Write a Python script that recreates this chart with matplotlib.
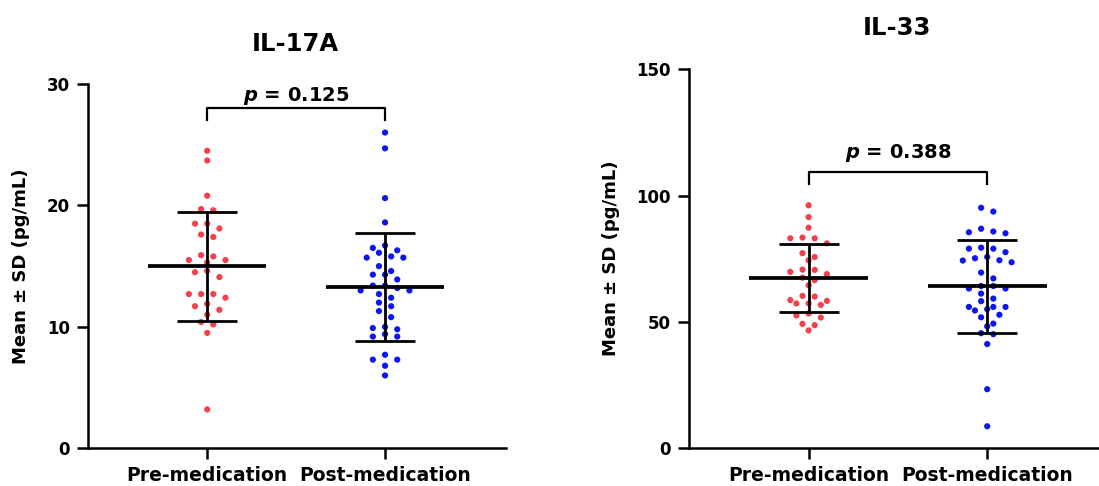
import matplotlib.pyplot as plt
import numpy as np

# values (pg/mL)
groups = ["Pre-medication", "Post-medication"]

il17_pre = [24.5, 23.7, 20.8, 19.6, 19.7, 18.5, 18.5, 18.1, 17.4, 17.6,
            15.9, 15.5, 15.3, 15.5, 15.8, 14.6, 14.5, 14.1, 12.7, 12.7,
            12.7, 12.4, 11.7, 11.4, 11.9, 11.0, 10.2, 10.4, 9.5, 3.2]
il17_post = [26.0, 24.7, 20.6, 18.6, 16.7, 16.5, 16.3, 16.1, 15.8, 15.7,
             15.7, 15.0, 14.6, 14.3, 14.3, 13.9, 13.4, 13.4, 13.2, 13.0,
             13.0, 12.7, 12.4, 12.0, 11.7, 11.3, 10.8, 9.9, 10.0, 9.8,
             9.4, 9.2, 9.2, 7.7, 7.3, 7.3, 6.8, 6.0]
il33_pre = [96.2, 91.5, 87.3, 83.1, 83.1, 83.4, 81.1, 77.2, 75.7, 74.4,
            70.7, 68.9, 69.8, 70.6, 67.5, 66.5, 64.5, 60.3, 58.6, 57.3,
            56.7, 57.3, 58.3, 60.0, 53.3, 52.5, 51.7, 49.2, 48.7, 46.6]
il33_post = [93.7, 95.2, 85.8, 85.1, 85.5, 86.9, 79.0, 77.6, 79.0, 79.4,
             75.7, 74.4, 73.6, 74.3, 75.2, 69.5, 67.2, 64.2, 63.2, 63.2,
             64.2, 61.2, 58.2, 59.2, 55.9, 55.9, 55.9, 54.5, 55.0, 51.8,
             52.8, 48.2, 49.3, 45.1, 45.5, 41.2, 23.3, 8.6]

p_il17 = "0.125"
p_il33 = "0.388"

RED = "#F2414B"
BLUE = "#0B16F2"

plt.rcParams['font.family'] = ['DejaVu Sans']
plt.rcParams['font.weight'] = 'bold'
plt.rcParams['axes.labelweight'] = 'bold'
plt.rcParams['mathtext.fontset'] = 'custom'
plt.rcParams['mathtext.it'] = 'DejaVu Sans:italic:bold'
plt.rcParams['mathtext.rm'] = 'DejaVu Sans:bold'


def swarm(ax, vals, xpos, row_px=6.5, step_px=12.2):
    # GraphPad-like scatter: group close values into rows, spread each row
    vals = np.asarray(vals)
    p0 = ax.transData.transform((0, 0))
    p1 = ax.transData.transform((1, 1))
    px_x, px_y = p1 - p0
    order = np.argsort(vals)[::-1]
    rows, cur = [], []
    for i in order:
        if cur and (vals[cur[0]] - vals[i]) * px_y > row_px:
            rows.append(cur)
            cur = []
        cur.append(i)
    rows.append(cur)
    off = np.zeros(len(vals))
    for r in rows:
        n = len(r)
        slots = sorted(np.arange(n) - (n - 1) / 2, key=lambda s: (abs(s), s))
        for i, s in zip(r, slots):
            off[i] = s * step_px / px_x
    return xpos + off


def panel(ax, pre, post, xmax, ylim, yticks, pval, bracket, ptext_y):
    ax.set_xlim(-0.67, xmax)
    ax.set_ylim(*ylim)
    ax.set_yticks(yticks)
    ax.set_xticks([0, 1])
    ax.set_xticklabels(groups, fontsize=13.5)
    for x, d, c in [(0, pre, RED), (1, post, BLUE)]:
        xs = swarm(ax, d, x)
        ax.scatter(xs, d, s=20, color=c, edgecolors='none', zorder=2, clip_on=False)
        m = np.mean(d)
        sd = np.std(d, ddof=1)
        ax.hlines(m, x - 0.333, x + 0.333, color='black', lw=2.7, zorder=3)
        ax.vlines(x, m - sd, m + sd, color='black', lw=2, zorder=3)
        ax.hlines([m - sd, m + sd], x - 0.168, x + 0.168, color='black', lw=2, zorder=3)
    lo, hi = bracket
    ax.plot([0, 0, 1, 1], [lo, hi, hi, lo], color='black', lw=1.6, clip_on=False)
    ax.text(0.5, ptext_y, r'$p$ = ' + pval, ha='center', va='baseline', fontsize=14)
    ax.spines['top'].set_visible(False)
    ax.spines['right'].set_visible(False)
    for s in ['left', 'bottom']:
        ax.spines[s].set_linewidth(1.8)
    ax.tick_params(axis='y', direction='out', length=8, width=1.8, labelsize=12, pad=5)
    ax.tick_params(axis='x', direction='out', length=8, width=1.8, pad=5)
    ax.set_ylabel("Mean ± SD (pg/mL)", fontsize=13, labelpad=12)


fig = plt.figure(figsize=(10.99, 4.86), dpi=100)
axL = fig.add_axes([0.0801, 0.0776, 0.3803, 0.7496])
axR = fig.add_axes([0.6269, 0.0782, 0.3731, 0.7788])

panel(axL, il17_pre, il17_post, 1.68, (0, 30), [0, 10, 20, 30], p_il17, (27.0, 28.0), 28.6)
panel(axR, il33_pre, il33_post, 1.626, (0, 150), [0, 50, 100, 150], p_il33, (104.8, 109.3), 115.0)

fig.text(0.2684, 0.8957, "IL-17A", ha='center', va='baseline', fontsize=17.5)
fig.text(0.8162, 0.928, "IL-33", ha='center', va='baseline', fontsize=17.5)

fig.savefig("out.png", dpi=100)
